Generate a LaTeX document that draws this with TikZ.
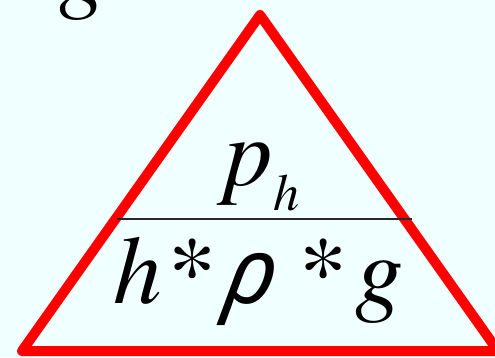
\documentclass[tikz,border=0pt]{standalone}
\usepackage{fontspec}
\newfontfamily\timesfont{texgyretermes}[Extension=.otf, UprightFont=*-regular, ItalicFont=*-italic]
\newfontfamily\rhofont{Noto Sans}[FakeSlant=0.16]
\usepackage{tikz}
\usetikzlibrary{positioning}
\definecolor{myred}{RGB}{255,0,0}
\definecolor{mybg}{RGB}{240,255,255}
\definecolor{myrule}{RGB}{40,40,40}
\tikzset{
  tri/.style={draw=myred, line width=10pt, line join=round},
  rule/.style={draw=myrule, line width=1.2pt},
  bigtext/.style={font=\timesfont\itshape\fontsize{97}{100}\selectfont, inner sep=0pt}
}

\begin{document}
\begin{tikzpicture}[x=1pt, y=-1pt]
  \fill[mybg] (0,0) rectangle (495,357);
  \useasboundingbox (0,0) rectangle (495,357);
  \clip (0,0) rectangle (495,357);

  % corners of the triangle
  \coordinate (top)   at (260,15);
  \coordinate (left)  at (22,351);
  \coordinate (right) at (498,351);
  \draw[tri] (top) -- (left) -- (right) -- cycle;

  % line between the two parts
  \coordinate (ruleL) at (117,219);
  \coordinate (ruleR) at (412,219);
  \draw[rule] (ruleL) -- (ruleR);

  \node[bigtext, anchor=base] (press) at (262,185) {p\raisebox{-25pt}{\fontsize{52}{54}\selectfont h}};
  \node[bigtext, anchor=base] (prod) at (259,303)
    {h*\hspace{12pt}{\rhofont\fontsize{92}{100}\selectfont ρ}\hspace{20pt}*\hspace{14pt}g};

  % cut-off letter at the top
  \node[bigtext, anchor=base] (cutg) at (84,0) {g};
\end{tikzpicture}
\end{document}
